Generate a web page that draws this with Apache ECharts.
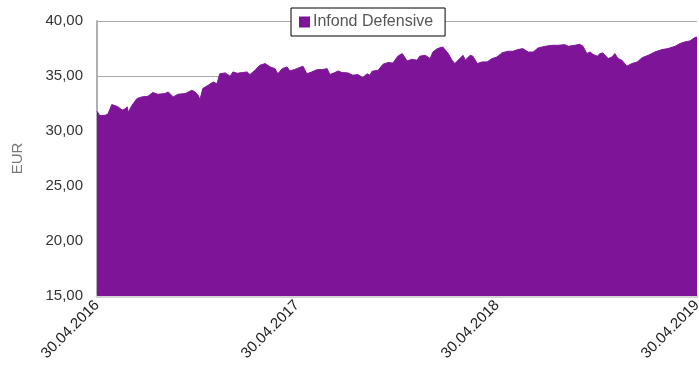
<!DOCTYPE html>
<html>
<head>
<meta charset="utf-8">
<script src="https://cdn.jsdelivr.net/npm/echarts@6/dist/echarts.min.js"></script>
<style>html,body{margin:0;padding:0;background:#fff}#c{width:699px;height:369px}</style>
</head>
<body>
<div id="c"></div>
<script>
var seriesName = 'Infond Defensive';
var startDate = '2016-04-30';
var endDate = '2019-04-30';
var dates = [
'2016-04-30','2016-05-05','2016-05-15','2016-05-20','2016-05-27','2016-06-02','2016-06-07','2016-06-15','2016-06-20','2016-06-24',
'2016-06-26','2016-07-03','2016-07-12','2016-07-21','2016-08-01','2016-08-10','2016-08-19','2016-09-01','2016-09-07','2016-09-16',
'2016-09-25','2016-10-08','2016-10-20','2016-10-26','2016-10-31','2016-11-04','2016-11-09','2016-11-19','2016-11-28','2016-12-05',
'2016-12-10','2016-12-20','2016-12-29','2017-01-03','2017-01-11','2017-01-20','2017-01-29','2017-02-03','2017-02-12','2017-02-21',
'2017-03-03','2017-03-12','2017-03-21','2017-03-26','2017-04-03','2017-04-12','2017-04-17','2017-04-26','2017-05-11','2017-05-18',
'2017-05-27','2017-06-06','2017-06-15','2017-06-24','2017-06-29','2017-07-08','2017-07-14','2017-07-21','2017-08-01','2017-08-10',
'2017-08-19','2017-08-28','2017-09-05','2017-09-10','2017-09-14','2017-09-25','2017-10-04','2017-10-13','2017-10-22','2017-10-31',
'2017-11-08','2017-11-17','2017-11-26','2017-12-05','2017-12-10','2017-12-20','2017-12-29','2018-01-03','2018-01-11','2018-01-21',
'2018-01-31','2018-02-07','2018-02-12','2018-02-21','2018-02-27','2018-03-03','2018-03-12','2018-03-17','2018-03-25','2018-04-03',
'2018-04-12','2018-04-21','2018-04-30','2018-05-09','2018-05-20','2018-05-29','2018-06-07','2018-06-16','2018-06-26','2018-07-05',
'2018-07-14','2018-07-27','2018-08-08','2018-08-19','2018-09-01','2018-09-07','2018-09-19','2018-09-28','2018-10-04','2018-10-11',
'2018-10-17','2018-10-22','2018-10-30','2018-11-04','2018-11-09','2018-11-19','2018-11-26','2018-12-01','2018-12-07','2018-12-14',
'2018-12-23','2019-01-01','2019-01-11','2019-01-20','2019-01-31','2019-02-12','2019-02-25','2019-03-08','2019-03-21','2019-03-30',
'2019-04-08','2019-04-17','2019-04-26','2019-04-30'
];
var values = [
31.80,31.40,31.43,31.55,32.40,32.30,32.20,31.90,32.00,32.20,
31.70,32.35,32.95,33.10,33.16,33.50,33.34,33.40,33.55,33.10,
33.34,33.40,33.70,33.55,33.30,32.86,33.86,34.16,34.46,34.30,
35.20,35.28,34.98,35.37,35.25,35.31,35.37,35.13,35.50,35.97,
36.13,35.82,35.67,35.20,35.67,35.82,35.46,35.60,35.89,35.20,
35.37,35.58,35.58,35.67,35.13,35.31,35.46,35.31,35.28,35.07,
35.13,34.86,35.20,35.07,35.43,35.52,36.07,36.22,36.18,36.80,
37.04,36.37,36.52,36.43,36.80,36.88,36.58,37.18,37.49,37.64,
37.04,36.43,36.13,36.58,36.88,36.43,36.88,36.80,36.13,36.28,
36.28,36.58,36.73,37.10,37.25,37.25,37.40,37.49,37.18,37.18,
37.55,37.70,37.79,37.79,37.85,37.70,37.79,37.88,37.70,37.04,
37.18,36.97,36.80,37.04,37.10,36.58,36.73,37.04,36.58,36.43,
35.89,36.13,36.28,36.67,36.88,37.18,37.40,37.49,37.70,37.95,
38.10,38.19,38.49,38.55
];
var yTicks = [15, 20, 25, 30, 35, 40];

var DAY = 86400000;
var t0 = Date.parse(startDate + 'T00:00:00Z');
function dayOf(s){ return Math.round((Date.parse(s + 'T00:00:00Z') - t0) / DAY); }
var data = dates.map(function(d, i){ return [dayOf(d), values[i]]; });
function fmtDate(v){
  var d = new Date(t0 + v * DAY);
  var dd = ('0' + d.getUTCDate()).slice(-2), mm = ('0' + (d.getUTCMonth() + 1)).slice(-2);
  return dd + '.' + mm + '.' + d.getUTCFullYear();
}
var FONT = '"Liberation Sans", Arial, sans-serif';
var chart = echarts.init(document.getElementById('c'), null, {renderer: 'canvas'});
chart.setOption({
  animation: false,
  textStyle: {fontFamily: FONT},
  grid: {left: 97, right: 2, top: 21, bottom: 73, containLabel: false, outerBoundsMode: 'none'},
  legend: {
    data: [seriesName], left: 291, top: 8,
    backgroundColor: '#fff', borderColor: '#000', borderWidth: 1,
    padding: [6, 12, 6, 8],
    icon: 'rect', itemWidth: 11, itemHeight: 11, itemGap: 3,
    textStyle: {color: '#555', fontSize: 16, fontFamily: FONT, padding: [0, 0, 0, -2]}
  },
  xAxis: {
    type: 'value', min: 0, max: dayOf(endDate), interval: 365,
    axisLine: {show: true, lineStyle: {color: '#d4d4d4', width: 3}},
    axisTick: {show: false},
    splitLine: {show: false},
    axisLabel: {rotate: 45, margin: 7, color: '#222', fontSize: 15, fontFamily: FONT, formatter: fmtDate, showMaxLabel: true, showMinLabel: true, hideOverlap: false}
  },
  yAxis: {
    type: 'value', min: yTicks[0], max: yTicks[yTicks.length - 1], interval: 5,
    name: 'EUR', nameLocation: 'middle', nameRotate: 90, nameGap: 72,
    nameTextStyle: {color: '#777', fontSize: 15, fontFamily: FONT},
    axisLine: {show: true, lineStyle: {color: '#b0b0b0', width: 2}},
    axisTick: {show: false},
    splitLine: {show: true, lineStyle: {color: '#aaaaaa', width: 1}},
    axisLabel: {margin: 14, color: '#333', fontSize: 15, fontFamily: FONT, formatter: function(v){ return v.toFixed(2).replace('.', ','); }}
  },
  series: [{
    name: seriesName, type: 'line', data: data,
    showSymbol: false, symbol: 'none',
    lineStyle: {width: 1, color: '#7e1599'},
    itemStyle: {color: '#7e1599'},
    areaStyle: {color: '#7e1599', opacity: 1},
    z: 3
  }]
});
</script>
</body>
</html>
